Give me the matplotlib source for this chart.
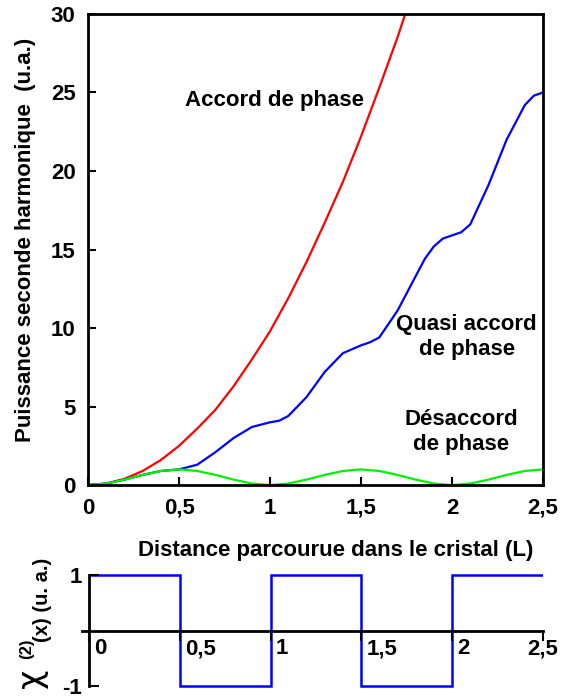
import matplotlib
matplotlib.use('Agg')
import matplotlib.pyplot as plt
from matplotlib.transforms import offset_copy

plt.rcParams['font.family'] = ['Liberation Sans', 'DejaVu Sans']
plt.rcParams['font.weight'] = 'bold'
plt.rcParams['mathtext.fontset'] = 'dejavusans'

# Accord de phase (red)
red_x = [0, 0.1, 0.2, 0.3, 0.4, 0.5, 0.6, 0.7, 0.8, 0.9, 1.0, 1.1, 1.2,
         1.3, 1.4, 1.5, 1.6, 1.7, 1.8]
red_y = [0, 0.1, 0.4, 0.9, 1.6, 2.5, 3.6, 4.8, 6.3, 8.0, 9.8, 11.9, 14.2,
         16.7, 19.3, 22.2, 25.3, 28.5, 32.0]

# Quasi accord de phase (blue)
blue_x = [0, 0.1, 0.2, 0.3, 0.4, 0.5, 0.6, 0.7, 0.8, 0.9, 1.0, 1.05, 1.1,
          1.2, 1.3, 1.4, 1.5, 1.55, 1.6, 1.7, 1.8, 1.85, 1.9, 1.95, 2.0,
          2.05, 2.1, 2.2, 2.3, 2.4, 2.45, 2.5]
blue_y = [0, 0.1, 0.35, 0.65, 0.9, 1.0, 1.3, 2.1, 3.0, 3.7, 4.0, 4.1, 4.4,
          5.6, 7.2, 8.4, 8.9, 9.1, 9.4, 11.1, 13.3, 14.4, 15.2, 15.7, 15.9,
          16.1, 16.6, 19.1, 22.0, 24.2, 24.8, 25.0]

# Desaccord de phase (green)
green_x = [0, 0.1, 0.2, 0.3, 0.4, 0.5, 0.6, 0.7, 0.8, 0.9, 1.0, 1.1, 1.2,
           1.3, 1.4, 1.5, 1.6, 1.7, 1.8, 1.9, 2.0, 2.1, 2.2, 2.3, 2.4, 2.5]
green_y = [0, 0.1, 0.35, 0.65, 0.9, 1.0, 0.9, 0.65, 0.35, 0.1, 0, 0.1, 0.35,
           0.65, 0.9, 1.0, 0.9, 0.65, 0.35, 0.1, 0, 0.1, 0.35, 0.65, 0.9, 1.0]

# chi(2) modulation
chi_edges = [0, 0.5, 1.0, 1.5, 2.0, 2.5]
chi_vals = [1, -1, 1, -1, 1]

x_ticks = [0, 0.5, 1, 1.5, 2, 2.5]
x_tick_labels = ['0', '0,5', '1', '1,5', '2', '2,5']
y_ticks = [0, 5, 10, 15, 20, 25, 30]

fig = plt.figure(figsize=(5.61, 6.98), dpi=100)

# top panel: second harmonic power
ax = fig.add_axes([0.157, 0.305, 0.811, 0.675])
ax.plot(red_x, red_y, color='#ff0000', lw=1.6)
ax.plot(blue_x, blue_y, color='#0000ff', lw=1.6)
ax.plot(green_x, green_y, color='#00f000', lw=1.6)
ax.set_xlim(0, 2.5)
ax.set_ylim(0, 30)
ax.set_xticks(x_ticks, x_tick_labels)
ax.set_yticks(y_ticks)
ax.tick_params(direction='in', length=6, width=1.5, labelsize=16, pad=9)
for s in ax.spines.values():
    s.set_linewidth(2)

ax.text(0.53, 24.5, 'Accord de phase', fontsize=16, ha='left', va='center')
ax.text(2.08, 9.4, 'Quasi accord\nde phase', fontsize=16, ha='center',
        va='center', linespacing=1.25)
ax.text(2.05, 3.4, 'Désaccord\nde phase', fontsize=16, ha='center',
        va='center', linespacing=1.25)

fig.text(0.598, 0.211, 'Distance parcourue dans le cristal (L)',
         fontsize=16, ha='center', va='center')
fig.text(0.045, 0.656, 'Puissance seconde harmonique  (u.a.)',
         fontsize=16, ha='center', va='center', rotation=90)

# bottom panel: chi(2)(x)
ax2 = fig.add_axes([0.146, 0.010, 0.822, 0.1734])
ax2.stairs(chi_vals, chi_edges, baseline=None, color='#0000ff', lw=1.8)
ax2.set_xlim(-0.04, 2.5)
ax2.set_ylim(-1.1, 1.1)
ax2.spines['top'].set_visible(False)
ax2.spines['right'].set_visible(False)
ax2.spines['left'].set_position(('data', 0))
ax2.spines['left'].set_bounds(-1, 1)
ax2.spines['bottom'].set_position(('data', 0))
for s in ax2.spines.values():
    s.set_linewidth(2)
ax2.set_xticks(x_ticks)
ax2.tick_params(axis='x', direction='out', length=7, width=1.5,
                labelbottom=False)
ax2.set_yticks([1, -1], ['1', '-1'])
ax2.tick_params(axis='y', direction='in', length=7, width=1.5,
                labelsize=16, pad=5)

lbl_tr = offset_copy(ax2.transData, fig=fig, x=5, y=-18, units='dots')
for xt, lab in zip(x_ticks, x_tick_labels):
    if lab == '2,5':
        ax2.text(xt, 0, lab, transform=offset_copy(ax2.transData, fig=fig,
                 x=0, y=-18, units='dots'), fontsize=16, ha='center',
                 va='center')
    else:
        ax2.text(xt, 0, lab, transform=lbl_tr, fontsize=16, ha='left',
                 va='center')

# y label of the bottom panel, built from three pieces
fig.text(0.056, 0.028, 'χ', fontsize=24, fontweight='normal',
         family='DejaVu Sans', ha='center', va='center', rotation=90)
fig.text(0.047, 0.071, '(2)', fontsize=12, ha='center', va='center',
         rotation=90)
fig.text(0.075, 0.140, '(x) (u. a.)', fontsize=14.5, ha='center',
         va='center', rotation=90)

fig.savefig('out.png', dpi=100)
